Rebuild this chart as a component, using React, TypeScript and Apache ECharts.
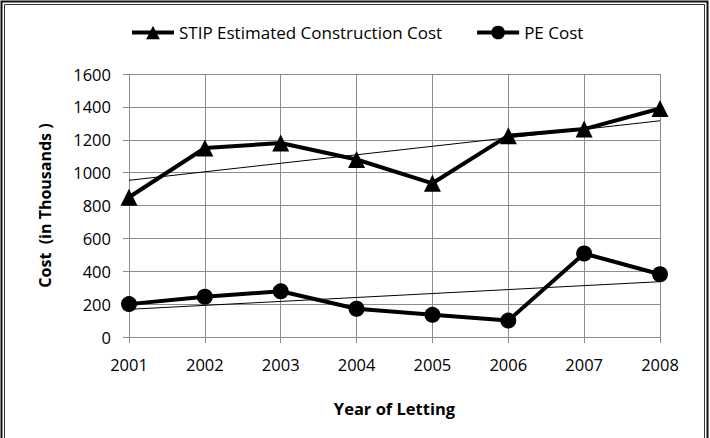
import React, { useEffect, useRef } from "react";
import * as echarts from "echarts";

const years = ["2001", "2002", "2003", "2004", "2005", "2006", "2007", "2008"];
const stipCost = [850, 1150, 1180, 1080, 935, 1225, 1265, 1390];
const peCost = [200, 245, 278, 172, 135, 100, 508, 382];
const yTicks = { min: 0, max: 1600, interval: 200 };

// Least-squares linear trend over category index
function linearTrend(values: number[]): number[] {
  const n = values.length;
  const xs = values.map((_, i) => i + 1);
  const mx = xs.reduce((a, b) => a + b, 0) / n;
  const my = values.reduce((a, b) => a + b, 0) / n;
  let num = 0;
  let den = 0;
  for (let i = 0; i < n; i++) {
    num += (xs[i] - mx) * (values[i] - my);
    den += (xs[i] - mx) * (xs[i] - mx);
  }
  const slope = num / den;
  return xs.map((x) => my + slope * (x - mx));
}

const FONT = "'Open Sans', 'Noto Sans', sans-serif";
const GRID_GRAY = "#8c8c8c";

export default function App() {
  const ref = useRef<HTMLDivElement>(null);

  useEffect(() => {
    if (!ref.current) return;
    const chart = echarts.init(ref.current, undefined, { renderer: "svg" });
    chart.setOption({
      animation: false,
      backgroundColor: "#ffffff",
      textStyle: { fontFamily: FONT, color: "#000" },
      legend: {
        left: 125,
        top: 19,
        itemWidth: 42,
        itemHeight: 17,
        itemGap: 33,
        lineStyle: { width: 4, color: "#000" },
        data: [
          { name: "STIP Estimated Construction Cost", lineStyle: { width: 4 } },
          { name: "PE Cost", lineStyle: { width: 4 } },
        ],
        textStyle: { fontFamily: FONT, fontSize: 17, color: "#000" },
      },
      grid: { left: 129, right: 50, top: 74, bottom: 101 },
      xAxis: {
        type: "category",
        data: years,
        boundaryGap: false,
        name: "Year of Letting",
        nameLocation: "middle",
        nameGap: 63,
        nameTextStyle: { fontFamily: FONT, fontSize: 16.5, fontWeight: "bold", color: "#000" },
        axisLine: { show: true, lineStyle: { color: GRID_GRAY, width: 1 } },
        axisTick: { show: true, length: 6, lineStyle: { color: GRID_GRAY } },
        axisLabel: { fontFamily: FONT, fontSize: 16.5, color: "#000", margin: 19 },
        splitLine: { show: true, lineStyle: { color: GRID_GRAY, width: 1 } },
      },
      yAxis: {
        type: "value",
        min: yTicks.min,
        max: yTicks.max,
        interval: yTicks.interval,
        name: "Cost  (in Thousands )",
        nameLocation: "middle",
        nameGap: 76,
        nameRotate: 90,
        nameTextStyle: { fontFamily: FONT, fontSize: 16, fontWeight: "bold", color: "#000" },
        axisLine: { show: true, lineStyle: { color: GRID_GRAY, width: 1 } },
        axisTick: { show: true, length: 6, lineStyle: { color: GRID_GRAY } },
        axisLabel: {
          fontFamily: FONT,
          fontSize: 16.5,
          color: "#000",
          margin: 18,
          formatter: (v: number) => String(v),
        },
        splitLine: { show: true, lineStyle: { color: GRID_GRAY, width: 1 } },
      },
      series: [
        {
          name: "STIP Estimated Construction Cost",
          type: "line",
          data: stipCost,
          symbol: "triangle",
          symbolSize: 17,
          lineStyle: { color: "#000", width: 4 },
          itemStyle: { color: "#000" },
          z: 3,
        },
        {
          name: "PE Cost",
          type: "line",
          data: peCost,
          symbol: "circle",
          symbolSize: 16,
          lineStyle: { color: "#000", width: 4 },
          itemStyle: { color: "#000" },
          z: 3,
        },
        {
          name: "STIP trend",
          type: "line",
          data: linearTrend(stipCost),
          symbol: "none",
          lineStyle: { color: "#000", width: 1 },
          silent: true,
          z: 4,
        },
        {
          name: "PE trend",
          type: "line",
          data: linearTrend(peCost),
          symbol: "none",
          lineStyle: { color: "#000", width: 1 },
          silent: true,
          z: 4,
        },
      ],
      graphic: [
        {
          type: "rect",
          shape: { x: 1.5, y: 1.5, width: 706, height: 445 },
          style: { fill: "none", stroke: "#111", lineWidth: 2 },
          silent: true,
        },
        {
          type: "rect",
          shape: { x: 4.5, y: 4.5, width: 700, height: 445 },
          style: { fill: "none", stroke: "#333", lineWidth: 1 },
          silent: true,
        },
      ],
    });
    return () => chart.dispose();
  }, []);

  return (
    <div
      ref={ref}
      style={{ position: "fixed", left: 0, top: 0, width: 710, height: 438 }}
    />
  );
}
